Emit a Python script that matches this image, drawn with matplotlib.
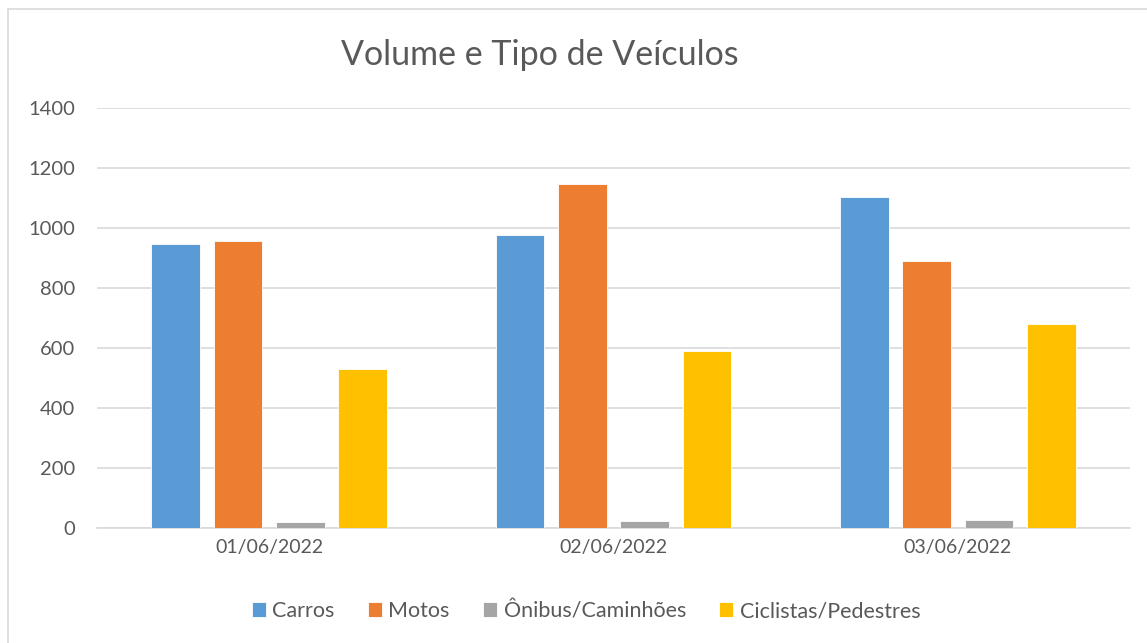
import matplotlib
matplotlib.use("Agg")
import matplotlib.pyplot as plt
import numpy as np

# Volume e Tipo de Veículos - contagem por dia
dates = ["01/06/2022", "02/06/2022", "03/06/2022"]
carros = [947, 977, 1102]
motos = [957, 1147, 889]
onibus = [19, 25, 26]
ciclistas = [530, 590, 681]

series_names = ["Carros", "Motos", "Ônibus/Caminhões", "Ciclistas/Pedestres"]
colors = ["#5B9BD5", "#ED7D31", "#A5A5A5", "#FFC000"]
text_gray = "#595959"

plt.rcParams["font.family"] = ["Lato", "DejaVu Sans"]

W, H = 1147, 643
fig = plt.figure(figsize=(W / 100, H / 100), dpi=100)

# plot area in pixels: x 97..1130, y 108..528
ax = fig.add_axes([97 / W, 1 - 528 / H, (1130 - 97) / W, (528 - 108) / H])

x = np.arange(len(dates))
width = 0.142
pitch = 0.181
for i, (vals, name, col) in enumerate(zip([carros, motos, onibus, ciclistas], series_names, colors)):
    ax.bar(x + (i - 1.5) * pitch, vals, width, color=col, label=name,
           edgecolor="white", linewidth=0.6, zorder=3)

ax.set_xlim(-0.5, 2.5)
ax.set_ylim(0, 1400)
ax.set_yticks(range(0, 1401, 200))
ax.set_xticks(x)
ax.set_xticklabels(dates)
ax.grid(axis="y", color="#D9D9D9", linewidth=1.2, zorder=0)
for s in ["top", "right", "left"]:
    ax.spines[s].set_visible(False)
ax.spines["bottom"].set_color("#D9D9D9")
ax.spines["bottom"].set_linewidth(1.2)
ax.tick_params(axis="x", length=0, labelsize=14, colors=text_gray, pad=8)
ax.tick_params(axis="y", length=0, labelsize=14.5, colors=text_gray, pad=16)

fig.text(540 / W, 1 - 55 / H, "Volume e Tipo de Veículos", ha="center", va="center",
         fontsize=24.5, color=text_gray)

fig.legend(loc="center", bbox_to_anchor=(586 / W, 1 - 611 / H), ncol=4, frameon=False,
           fontsize=15.5, labelcolor=text_gray, handlelength=0.65, handleheight=0.65,
           handletextpad=0.3, columnspacing=1.55)

# chart border
fig.add_artist(plt.Rectangle((8 / W, -0.1), 1.2, 1 - 9 / H + 0.1, transform=fig.transFigure,
                             fill=False, edgecolor="#D9D9D9", linewidth=1.2))

plt.savefig("out.png", dpi=100)
